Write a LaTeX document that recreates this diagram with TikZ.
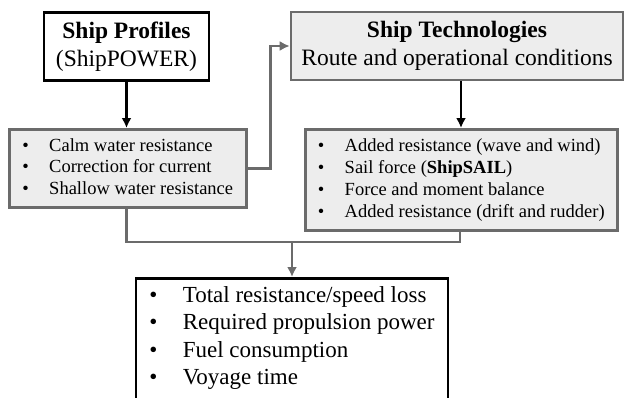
\documentclass[tikz,border=0pt]{standalone}
\usepackage{fontspec}
\setmainfont{Liberation Serif}
\usetikzlibrary{calc,arrows.meta}

\newcommand{\itm}[1]{\makebox[1.45em][l]{\textbullet}#1}

\begin{document}
\begin{tikzpicture}[x=1pt, y=-1pt, >={Latex[length=10pt,width=10pt]}]
\def \sp {2.6pt}
  \tikzstyle{head} = [draw, color=black, fill=white, rectangle, line width=\sp,
                      minimum height=68pt, align=center, text=black, inner sep=0,
                      font=\fontsize{23.5}{27.5}\selectfont]
  \tikzstyle{graybox} = [draw=black!58, fill=black!7, rectangle, line width=\sp,
                         align=left, text=black, inner sep=0, anchor=north west]
  \tikzstyle{lines} = [black, line width=\sp, ->]
  \tikzstyle{glines} = [black!58, line width=\sp, ->]
  \tikzstyle{glines2} = [black!58, line width=\sp, -]

\useasboundingbox (0,0) rectangle (625,397);
\clip (0,0) rectangle (625,397);

%%%%%%%%%%%%%%%%%%%%%%%%%%%%%%%%%%%%%%%%%%%%%%%%%%%%%%%%%%%%%%%%%%%%%%%%%%%%%%%

\coordinate (profile_pose) at (126.5, 46.5);
\coordinate (tech_pose) at (457, 46);
\coordinate (left_pose) at (8, 128);
\coordinate (right_pose) at (304, 128);
\coordinate (result_pose) at (292, 277);
\coordinate (join) at (292, 242);

%%%%%%%%%%%%%%%%%%%%%%%%%%%%%%%%%%%%%%%%%%%%%%%%%%%%%%%%%%%%%%%%%%%%%%%%%%%%%%%

\node[head, minimum width=165pt] (profile) at (profile_pose) {\textbf{Ship Profiles}\\(ShipPOWER)};
\node[head, draw=black!58, fill=black!7, minimum width=332pt] (tech) at (tech_pose)
  {\textbf{Ship Technologies}\\Route and operational conditions};
\node[graybox, minimum width=237pt, minimum height=78pt, inner xsep=11pt, text depth=4pt,
      font=\fontsize{18.5}{21.5}\selectfont] (leftlist) at (left_pose)
  {\itm{Calm water resistance}\\\itm{Correction for current}\\\itm{Shallow water resistance}};
\node[graybox, minimum width=312pt, minimum height=101pt, inner xsep=11pt,
      font=\fontsize{18.5}{22}\selectfont] (rightlist) at (right_pose)
  {\itm{Added resistance (wave and wind)}\\\itm{Sail force (\textbf{ShipSAIL})}\\
   \itm{Force and moment balance}\\\itm{Added resistance (drift and rudder)}};
\node[draw, line width=\sp, fill=white, anchor=north, minimum width=312pt, align=left,
      inner xsep=12pt, inner ysep=8pt, text depth=40pt,
      font=\fontsize{23}{27.5}\selectfont] (result) at (result_pose)
  {\itm{Total resistance/speed loss}\\\itm{Required propulsion power}\\
   \itm{Fuel consumption}\\\itm{Voyage time}};

%%%%%%%%%%%%%%%%%%%%%%%%%%%%%%%%%%%%%%%%%%%%%%%%%%%%%%%%%%%%%%%%%%%%%%%%%%%%%%%

\draw[lines] (profile.south) -- (leftlist.north -| profile.south);
\draw[lines] (tech.south -| 461,0) -- (rightlist.north -| 461,0);
\draw[glines] (leftlist.east) -- ++ (23,0) |- (tech.west);
\draw[glines2] (leftlist.south -| profile.south) |- (join) -| (rightlist.south -| 460,0);
\draw[glines] (join) -- (result.north);

\end{tikzpicture}
\end{document}
